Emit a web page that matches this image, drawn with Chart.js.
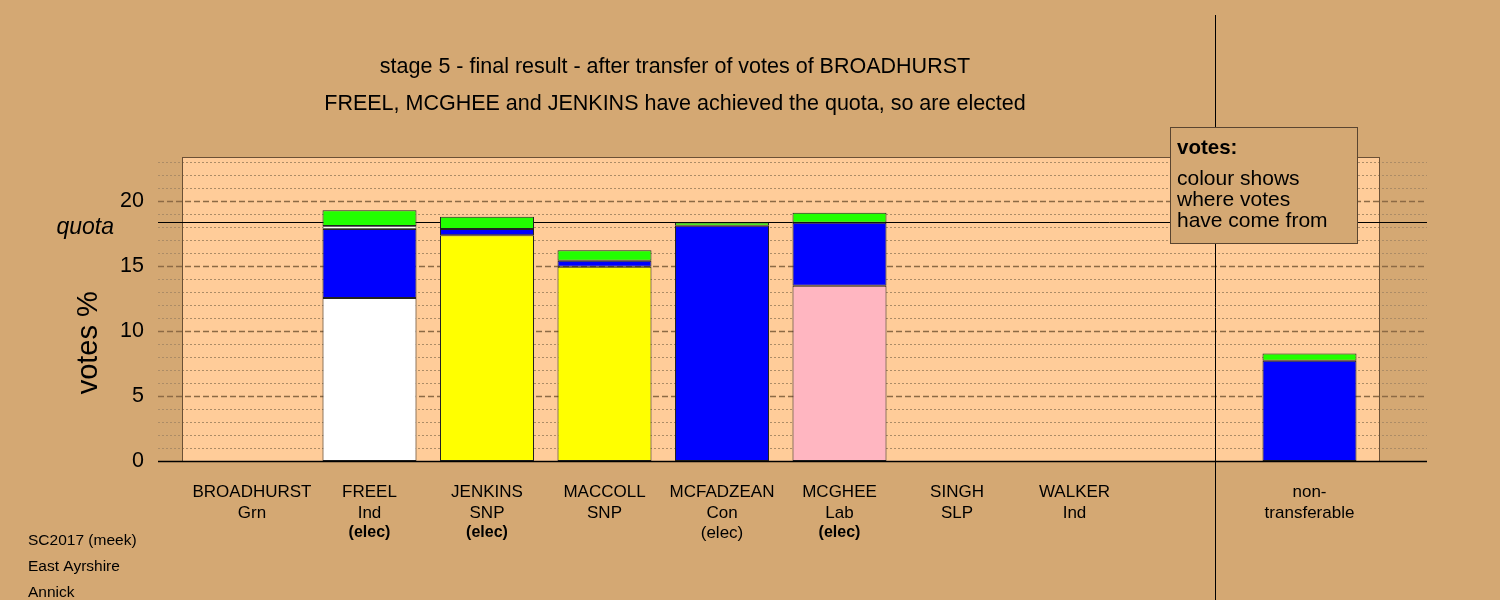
<!DOCTYPE html>
<html>
<head>
<meta charset="utf-8">
<script src="https://cdn.jsdelivr.net/npm/chart.js@4.4.1/dist/chart.umd.min.js"></script>
<style>
  html, body { margin: 0; padding: 0; background: #D4A873; }
  canvas { display: block; }
</style>
</head>
<body>
<canvas id="c" width="1500" height="600" style="width:1500px;height:600px"></canvas>
<script>
// ---------- data ----------
const candidates = ["BROADHURST", "FREEL", "JENKINS", "MACCOLL", "MCFADZEAN", "MCGHEE", "SINGH", "WALKER", "", "non-"];
const parties    = ["Grn", "Ind", "SNP", "SNP", "Con", "Lab", "SLP", "Ind", "", "transferable"];
const elected    = ["", "(elec)", "(elec)", "", "(elec)", "(elec)", "", "", "", ""];
const electedBold = [false, true, true, false, false, true, false, false, false, false];
const ownVotes   = [null, 12.54, 17.38, 14.95, 18.10, 13.49, null, null, null, null];
const ownColours = ["#00FF00", "#FFFFFF", "#FFFF00", "#FFFF00", "#0000FF", "#FFB6C1", "#FFFFFF", "#FFFFFF", "#FFFFFF", "#FFFFFF"];
const fromCon    = [null, 5.31, 0.47, 0.46, null, 4.84, null, null, null, 7.72];
const fromInd    = [null, 0.23, null, null, null, null, null, null, null, null];
const fromGrn    = [null, 1.23, 0.95, 0.82, 0.26, 0.77, null, null, null, 0.56];
const quota = 18.38;
const yTicks = [0, 5, 10, 15, 20];
const titleLines = [
  "stage 5 - final result - after transfer of votes of BROADHURST",
  "FREEL, MCGHEE and JENKINS have achieved the quota, so are elected"
];
const legendLines = ["colour shows", "where votes", "have come from"];
const footnotes = ["SC2017 (meek)", "East Ayrshire", "Annick"];

// ---------- styling ----------
const BG = "#D4A873";
const PANEL = "#FFCC99";
const FONT = '"Liberation Sans", Arial, Helvetica, sans-serif';
const PANEL_X = [-0.595, 9.59];
const DIVIDER_X = 8.197;
const Y_MAX = 23.4;

const toPts = arr => arr.map((v, i) => ({ x: i, y: v }));
const barBase = {
  borderColor: "#222222",
  borderWidth: 1,
  borderSkipped: false,
  barPercentage: 1.0,
  categoryPercentage: 0.8
};

const decor = {
  id: "decor",
  beforeDraw(chart) {
    const { ctx, chartArea: ca } = chart;
    const xs = chart.scales.x, ys = chart.scales.y;
    ctx.save();
    ctx.fillStyle = BG;
    ctx.fillRect(0, 0, chart.width, chart.height);
    const pl = Math.round(xs.getPixelForValue(PANEL_X[0])) + 0.5;
    const pr = Math.round(xs.getPixelForValue(PANEL_X[1])) + 0.5;
    const pt = Math.round(ys.getPixelForValue(Y_MAX)) + 0.5;
    const pb = Math.round(ys.getPixelForValue(0)) + 0.5;
    ctx.fillStyle = PANEL;
    ctx.fillRect(pl, pt, pr - pl, pb - pt);
    // grid lines
    for (let v = 1; v <= 23; v++) {
      const py = Math.round(ys.getPixelForValue(v)) + 0.5;
      ctx.beginPath();
      if (v % 5 === 0) {
        ctx.setLineDash([6, 3]);
        ctx.strokeStyle = "#8C6A45";
        ctx.lineWidth = 1.5;
      } else {
        ctx.setLineDash([2, 2]);
        ctx.strokeStyle = "#AC8C66";
        ctx.lineWidth = 1;
      }
      ctx.moveTo(ca.left, py);
      ctx.lineTo(ca.right, py);
      ctx.stroke();
    }
    ctx.setLineDash([]);
    // panel border
    ctx.strokeStyle = "#6B5035";
    ctx.lineWidth = 1;
    ctx.strokeRect(pl, pt, pr - pl, pb - pt);
    // quota line
    const qy = Math.round(ys.getPixelForValue(quota)) + 0.5;
    ctx.strokeStyle = "#000000";
    ctx.beginPath();
    ctx.moveTo(ca.left, qy);
    ctx.lineTo(ca.right, qy);
    ctx.stroke();
    ctx.restore();
  },
  afterDatasetsDraw(chart) {
    const { ctx, chartArea: ca } = chart;
    const xs = chart.scales.x, ys = chart.scales.y;
    ctx.save();
    // x axis line
    const by = Math.round(ys.getPixelForValue(0)) + 0.5;
    ctx.strokeStyle = "#000000";
    ctx.lineWidth = 1.5;
    ctx.beginPath();
    ctx.moveTo(ca.left, by);
    ctx.lineTo(ca.right, by);
    ctx.stroke();

    // vertical divider
    const dx = Math.round(xs.getPixelForValue(DIVIDER_X)) + 0.5;
    ctx.lineWidth = 1;
    ctx.beginPath();
    ctx.moveTo(dx, 15);
    ctx.lineTo(dx, chart.height);
    ctx.stroke();

    ctx.fillStyle = "#000000";
    // titles
    ctx.textAlign = "center";
    ctx.textBaseline = "middle";
    ctx.font = "21.5px " + FONT;
    ctx.fillText(titleLines[0], 675, 67);
    ctx.fillText(titleLines[1], 675, 104);

    // y ticks
    ctx.textAlign = "right";
    ctx.font = "21.5px " + FONT;
    yTicks.forEach(t => ctx.fillText(String(t), 144, ys.getPixelForValue(t)));
    ctx.font = "italic 23px " + FONT;
    ctx.fillText("quota", 114, ys.getPixelForValue(quota) + 5);

    // y title
    ctx.save();
    ctx.translate(89, ys.getPixelForValue(9.1));
    ctx.rotate(-Math.PI / 2);
    ctx.textAlign = "center";
    ctx.font = "29px " + FONT;
    ctx.fillText("votes %", 0, 0);
    ctx.restore();

    // x labels
    ctx.textAlign = "center";
    candidates.forEach((name, i) => {
      const cx = xs.getPixelForValue(i);
      ctx.font = "17px " + FONT;
      if (name) ctx.fillText(name, cx, 492);
      if (parties[i]) ctx.fillText(parties[i], cx, 513);
      if (elected[i]) {
        ctx.font = (electedBold[i] ? "bold 16px " : "17px ") + FONT;
        ctx.fillText(elected[i], cx, 533);
      }
    });

    // footnotes
    ctx.textAlign = "left";
    ctx.font = "15.5px " + FONT;
    footnotes.forEach((f, k) => ctx.fillText(f, 28, 541 + k * 26));

    // legend box
    ctx.fillStyle = BG;
    ctx.fillRect(1170.5, 127.5, 187, 116);
    ctx.strokeStyle = "#5A4530";
    ctx.strokeRect(1170.5, 127.5, 187, 116);
    ctx.fillStyle = "#000000";
    ctx.font = "bold 20.5px " + FONT;
    ctx.fillText("votes:", 1177, 148);
    ctx.font = "21px " + FONT;
    legendLines.forEach((l, k) => ctx.fillText(l, 1177, 179 + k * 21));
    ctx.restore();
  }
};

new Chart(document.getElementById("c"), {
  type: "bar",
  data: {
    datasets: [
      { ...barBase, data: toPts(ownVotes), backgroundColor: ownColours },
      { ...barBase, data: toPts(fromCon), backgroundColor: "#0000FF" },
      { ...barBase, data: toPts(fromInd), backgroundColor: "#FFFFFF", borderColor: "#666666" },
      { ...barBase, data: toPts(fromGrn), backgroundColor: "#22FF00" }
    ]
  },
  options: {
    responsive: false,
    animation: false,
    devicePixelRatio: 1,
    layout: { padding: { left: 158, right: 73, top: 157, bottom: 139 } },
    scales: {
      x: {
        type: "linear", stacked: true, offset: false, min: -0.8, max: 10, display: false,
        afterBuildTicks: axis => { axis.ticks = candidates.map((_, i) => ({ value: i })); }
      },
      y: { stacked: true, min: 0, max: Y_MAX, display: false }
    },
    plugins: { legend: { display: false }, tooltip: { enabled: false } }
  },
  plugins: [decor]
});
</script>
</body>
</html>
